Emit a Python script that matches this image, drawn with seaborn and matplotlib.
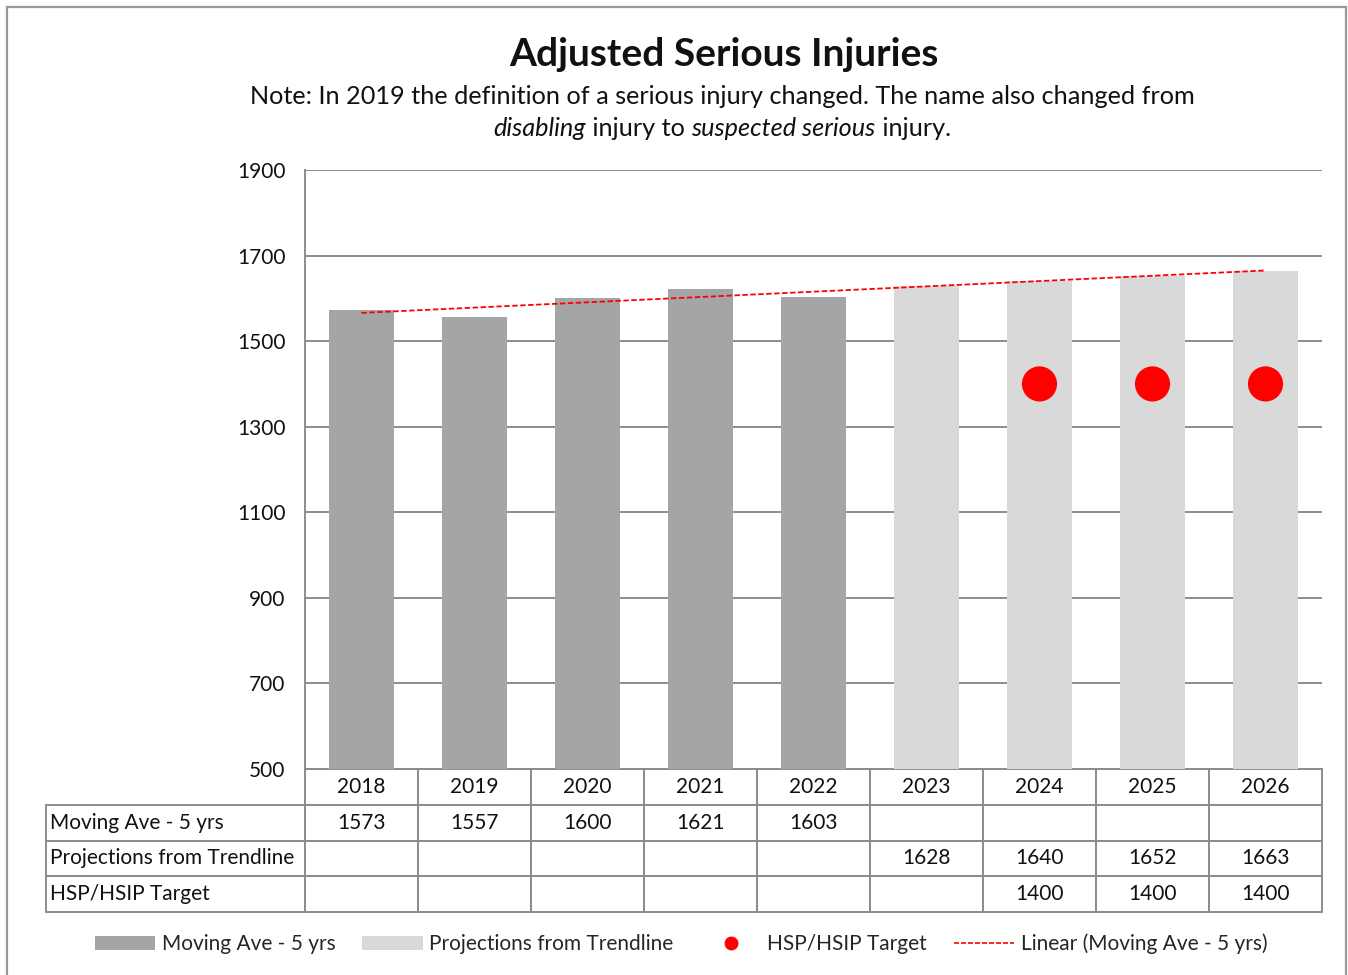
import numpy as np
import pandas as pd
import matplotlib
matplotlib.use("Agg")
import matplotlib.pyplot as plt
import seaborn as sns
from matplotlib.patches import Patch, Rectangle
from matplotlib.lines import Line2D

# ---------------- data ----------------
years = ["2018", "2019", "2020", "2021", "2022", "2023", "2024", "2025", "2026"]
moving_years = ["2018", "2019", "2020", "2021", "2022"]
moving_avg = [1573, 1557, 1600, 1621, 1603]
proj_years = ["2023", "2024", "2025", "2026"]
projections = [1628, 1640, 1652, 1663]
target_years = ["2024", "2025", "2026"]
targets = [1400, 1400, 1400]
yticks = [500, 700, 900, 1100, 1300, 1500, 1700, 1900]

s_moving = "Moving Ave - 5 yrs"
s_proj = "Projections from Trendline"
s_target = "HSP/HSIP Target"
s_linear = "Linear (Moving Ave - 5 yrs)"

title = "Adjusted Serious Injuries"
note1 = "Note: In 2019 the definition of a serious injury changed. The name also changed from"
note2 = [("disabling", "italic"), (" injury to ", "normal"), ("suspected serious", "italic"), (" injury.", "normal")]

c_dark = "#a5a5a5"
c_light = "#d9d9d9"
c_red = "#ff0000"
c_grid = "#8c8c8c"

# ---------------- setup ----------------
sns.set_theme(style="white")
plt.rcParams["font.family"] = ["Lato", "DejaVu Sans"]

W, H = 1348, 975
fig = plt.figure(figsize=(W / 100, H / 100), dpi=100)
ax = fig.add_axes([305 / W, 1 - 769 / H, (1322 - 305) / W, (769 - 170) / H])

df = pd.DataFrame({
    "year": moving_years + proj_years,
    "value": moving_avg + projections,
    "series": [s_moving] * len(moving_years) + [s_proj] * len(proj_years),
})
sns.barplot(data=df, x="year", y="value", hue="series", order=years,
            palette={s_moving: c_dark, s_proj: c_light}, dodge=False,
            width=0.57, ax=ax, legend=False, saturation=1, zorder=3,
            linewidth=0)

# targets
tdf = pd.DataFrame({"x": [years.index(y) for y in target_years], "v": targets})
sns.scatterplot(data=tdf, x="x", y="v", ax=ax, color=c_red, s=640,
                edgecolor="none", zorder=5, legend=False)

# linear trendline fitted to moving average
xi = np.array([years.index(y) for y in moving_years])
coef = np.polyfit(xi, np.array(moving_avg), 1)
xl = np.array([0, len(years) - 1])
ax.plot(xl, np.polyval(coef, xl), color=c_red, ls=(0, (3, 1.4)), lw=1.3, zorder=6)

ax.set_ylim(500, 1900)
ax.set_xlim(-0.5, len(years) - 0.5)
ax.set_yticks(yticks)
ax.set_yticklabels([str(v) for v in yticks], fontsize=15, color="#111111")
ax.set_xticks([])
ax.set_xlabel("")
ax.set_ylabel("")
ax.tick_params(axis="y", length=0, pad=14)
ax.yaxis.grid(True, color=c_grid, lw=1.4, zorder=0)
ax.set_axisbelow(True)
for sp in ["right", "bottom", "top"]:
    ax.spines[sp].set_visible(False)
ax.spines["left"].set_color(c_grid)
ax.spines["left"].set_linewidth(1.4)

# ---------------- data table ----------------
def row(label, ys, vals):
    d = dict(zip(ys, vals))
    return [label] + [str(d[y]) if y in d else "" for y in years]

cell_text = [
    [""] + years,
    row(s_moving, moving_years, moving_avg),
    row(s_proj, proj_years, projections),
    row(s_target, target_years, targets),
]
axw = 1322 - 305
lab_w = 305 - 46
colw = [lab_w] + [axw / len(years)] * len(years)
tab = ax.table(cellText=cell_text, colWidths=colw, cellLoc="center",
               bbox=[-lab_w / axw, -(912 - 769) / (769 - 170), (1322 - 46) / axw, (912 - 769) / (769 - 170)])
tab.auto_set_font_size(False)
for (r, c), cell in tab.get_celld().items():
    cell.set_edgecolor(c_grid)
    cell.set_linewidth(1.4)
    cell.get_text().set_fontsize(15)
    cell.get_text().set_color("#111111")
    if c == 0:
        cell.get_text().set_horizontalalignment("left")
        cell.PAD = 0.015
    if r == 0 and c == 0:
        cell.visible_edges = ""

# ---------------- titles ----------------
fig.text(724 / W, 1 - 55 / H, title, ha="center", va="center", fontsize=28,
         fontweight="bold", color="#111111")
fig.text(722 / W, 1 - 96 / H, note1, ha="center", va="center", fontsize=18.2, color="#111111")

parts = []
for txt, st in note2:
    t = fig.text(0.5, 1 - 129 / H, txt, ha="left", va="center", fontsize=18.2,
                 style=st, color="#111111")
    parts.append(t)

fig.canvas.draw()
rend = fig.canvas.get_renderer()
b0 = parts[0].get_window_extent(rend)
x = b0.x1
for t in parts[1:]:
    t.set_position((x / W, 1 - 129 / H))
    fig.canvas.draw()
    x = t.get_window_extent(rend).x1
total = x - b0.x0
shift = (722 - total / 2) - b0.x0
for t in parts:
    px, py = t.get_position()
    t.set_position((px + shift / W, py))

# ---------------- legend ----------------
handles = [
    Patch(facecolor=c_dark, edgecolor="none"),
    Patch(facecolor=c_light, edgecolor="none"),
    Line2D([], [], marker="o", ls="none", color=c_red, markersize=9),
    Line2D([], [], color=c_red, ls=(0, (3, 1.2)), lw=1.2),
]
labels = [s_moving, s_proj, s_target, s_linear]
fig.legend(handles, labels, loc="center", bbox_to_anchor=(681 / W, 1 - 944 / H),
           ncol=4, frameon=False, fontsize=15, handlelength=2.9, handletextpad=0.3,
           columnspacing=1.3, handleheight=0.7)

# outer border
fig.add_artist(Rectangle((7 / W, -0.05), (1346 - 7) / W, 1.05 - 7 / H,
                         transform=fig.transFigure, fill=False,
                         edgecolor="#999999", lw=1.6))

fig.savefig("out.png", dpi=100)
